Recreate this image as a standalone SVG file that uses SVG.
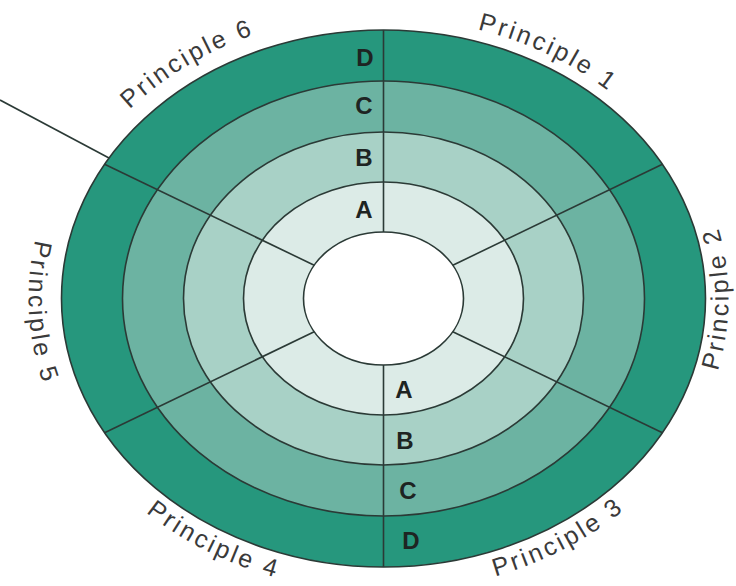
<svg xmlns="http://www.w3.org/2000/svg" width="736" height="586" viewBox="0 0 736 586">
  <style>
    .ring { stroke: #2b3a36; stroke-width: 1.6; }
    .div { stroke: #2b3a36; stroke-width: 1.6; fill: none; }
    .lvl { font-family: "Liberation Sans", Arial, sans-serif; font-size: 24px; font-weight: bold; fill: #1e2422; text-anchor: middle; }
    .pr { font-family: "Liberation Sans", Arial, sans-serif; font-size: 25px; fill: #3a3a3a; letter-spacing: 2.8px; }
  </style>
  <defs>
    <path id="p6" d="M53.2,234.3 A339,285.5 0 0 1 401.2,13.4"/>
    <path id="p1" d="M331.3,21.4 A334,280.5 0 0 1 699.3,207.2"/>
    <path id="p2" d="M647.8,486.2 A345,292 0 0 0 647.8,110.8"/>
    <path id="p3" d="M341.2,589.8 A347,293.5 0 0 0 715.3,384.3"/>
    <path id="p4" d="M53.5,389.2 A347,293.5 0 0 0 431.8,589.1"/>
    <path id="p5" d="M101.5,116.3 A355,300 0 0 0 122.2,501.6"/>
  </defs>
  <rect width="736" height="586" fill="#ffffff"/>

  <g id="ring-D"><ellipse class="ring" cx="383.5" cy="298.5" rx="322" ry="268.5" fill="#26977d"/></g>
  <g id="ring-C"><ellipse class="ring" cx="383.5" cy="298.5" rx="261" ry="217.5" fill="#6cb3a2"/></g>
  <g id="ring-B"><ellipse class="ring" cx="383.5" cy="298.5" rx="200" ry="166.5" fill="#a8d1c6"/></g>
  <g id="ring-A"><ellipse class="ring" cx="383.5" cy="298.5" rx="140" ry="116.5" fill="#dcebe7"/></g>
  <g id="hub"><ellipse class="ring" cx="383.5" cy="298.5" rx="80" ry="66.5" fill="#ffffff"/></g>

  <g id="connectors">
    <line class="div" x1="383.5" y1="232" x2="383.5" y2="30"/>
    <line class="div" x1="452.8" y1="265.25" x2="662.4" y2="164.25"/>
    <line class="div" x1="452.8" y1="331.75" x2="662.4" y2="432.75"/>
    <line class="div" x1="383.5" y1="365" x2="383.5" y2="567"/>
    <line class="div" x1="314.2" y1="331.75" x2="104.6" y2="432.75"/>
    <line class="div" x1="314.2" y1="265.25" x2="104.6" y2="164.25"/>
    <line class="div" x1="0" y1="100" x2="109" y2="158"/>
  </g>

  <g id="levels-top">
    <text class="lvl" x="365" y="66">D</text>
    <text class="lvl" x="364" y="114">C</text>
    <text class="lvl" x="364" y="166">B</text>
    <text class="lvl" x="364" y="218">A</text>
  </g>
  <g id="levels-bottom">
    <text class="lvl" x="404" y="398">A</text>
    <text class="lvl" x="405" y="449">B</text>
    <text class="lvl" x="408" y="499">C</text>
    <text class="lvl" x="411" y="549">D</text>
  </g>

  <g id="principle-1"><text class="pr"><textPath href="#p1" startOffset="50%" text-anchor="middle">Principle 1</textPath></text></g>
  <g id="principle-2"><text class="pr"><textPath href="#p2" startOffset="50%" text-anchor="middle">Principle 2</textPath></text></g>
  <g id="principle-3"><text class="pr"><textPath href="#p3" startOffset="50%" text-anchor="middle">Principle 3</textPath></text></g>
  <g id="principle-4"><text class="pr"><textPath href="#p4" startOffset="50%" text-anchor="middle">Principle 4</textPath></text></g>
  <g id="principle-5"><text class="pr"><textPath href="#p5" startOffset="50%" text-anchor="middle">Principle 5</textPath></text></g>
  <g id="principle-6"><text class="pr"><textPath href="#p6" startOffset="50%" text-anchor="middle">Principle 6</textPath></text></g>
</svg>
